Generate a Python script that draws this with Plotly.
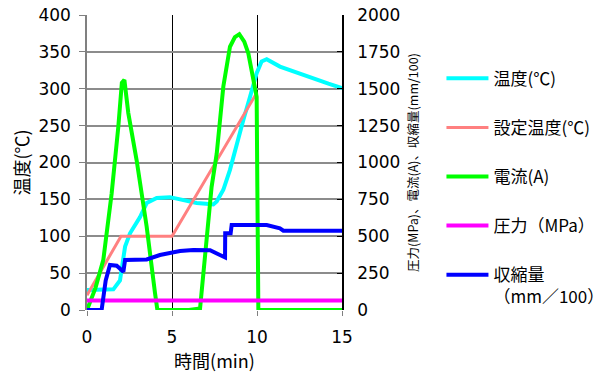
import plotly.graph_objects as go

# ---- data ----
# 温度 (left axis, ℃)
temp_t = [0, 0.5, 1.0, 1.55, 1.94, 2.24, 2.53, 3.12, 3.51, 4.1, 4.88, 5.47, 5.86, 6.45, 7.0, 7.43, 7.63, 8.02, 8.41, 8.8, 9.2, 9.59, 9.98, 10.27, 10.57, 11.35, 12.3, 13.3, 14.2, 15.0]
temp_v = [27, 27, 27, 28, 40, 86, 104, 126, 145, 152, 153, 150, 149, 145, 144, 143, 147, 163, 190, 226, 258, 289, 321, 337, 340, 330, 322, 314, 307, 301]

# 設定温度 (left axis, ℃)
set_t = [0, 2.0, 5.0, 10.0]
set_v = [20, 100, 100, 295]

# 電流 (right axis, A)
cur_t = [0, 0.5, 0.96, 1.45, 1.84, 2.05, 2.2, 2.43, 2.92, 3.51, 4.0, 4.14, 5.0, 6.0, 6.65, 6.94, 7.33, 7.63, 7.82, 8.02, 8.41, 8.7, 8.96, 9.25, 9.49, 9.78, 9.98, 10.02, 10.08, 11.0, 15.0]
cur_v = [0, 150, 340, 790, 1240, 1540, 1560, 1335, 1015, 565, 115, 0, 0, 0, 10, 385, 835, 1060, 1290, 1515, 1785, 1850, 1870, 1820, 1740, 1580, 1445, 835, 0, 0, 0]

# 圧力 (right axis, MPa)
prs_t = [0, 15]
prs_v = [65, 65]

# 収縮量 (right axis, mm/100)
shr_t = [0, 0.86, 1.1, 1.35, 1.75, 2.14, 2.24, 3.51, 4.29, 4.88, 5.47, 6.25, 7.24, 7.82, 8.12, 8.13, 8.45, 8.51, 10.0, 10.57, 11.35, 11.55, 15.0]
shr_v = [0, 0, 200, 305, 300, 260, 339, 343, 373, 389, 400, 407, 405, 373, 357, 520, 520, 576, 576, 576, 554, 538, 538]

x_ticks = [0, 5, 10, 15]
y_left_ticks = [0, 50, 100, 150, 200, 250, 300, 350, 400]
y_right_ticks = [0, 250, 500, 750, 1000, 1250, 1500, 1750, 2000]

JP = "Noto Sans CJK JP"
NUM = "DejaVu Sans"

fig = go.Figure()
fig.add_trace(go.Scatter(x=temp_t, y=temp_v, mode="lines", name="温度(℃)",
                         line=dict(color="#00FFFF", width=4), legendgroup="a"))
fig.add_trace(go.Scatter(x=set_t, y=set_v, mode="lines", name="設定温度(℃)",
                         line=dict(color="#FF8080", width=3), legendgroup="b"))
fig.add_trace(go.Scatter(x=cur_t, y=cur_v, mode="lines", name="電流(A)",
                         line=dict(color="#00FF00", width=4), legendgroup="c", yaxis="y2"))
fig.add_trace(go.Scatter(x=prs_t, y=prs_v, mode="lines", name="圧力（MPa）",
                         line=dict(color="#FF00FF", width=4), legendgroup="d", yaxis="y2"))
fig.add_trace(go.Scatter(x=shr_t, y=shr_v, mode="lines", name="収縮量<br>（mm／100）",
                         line=dict(color="#0000FF", width=4), legendgroup="e", yaxis="y2"))

# page body has an 8px margin, so the figure is 8px smaller and offset accordingly
fig.update_layout(
    width=599, height=366,
    margin=dict(l=79, r=265, t=7, b=64, autoexpand=False),
    paper_bgcolor="white", plot_bgcolor="white",
    font=dict(family=JP, size=15, color="black"),
    showlegend=True,
    legend=dict(x=1.39, xanchor="left", y=0.845, yanchor="top",
                tracegroupgap=24, valign="top", itemwidth=42,
                font=dict(family=JP, size=17, color="black"),
                bgcolor="rgba(0,0,0,0)"),
    xaxis=dict(range=[0, 15], tickvals=x_ticks, showgrid=True, gridcolor="black", gridwidth=1,
               zeroline=False, showline=False, ticks="outside", ticklen=5, tickcolor="#808080",
               ticklabelstandoff=7,
               tickfont=dict(family=NUM, size=17), automargin=False,
               title=dict(text="時間(min)", font=dict(family=JP, size=18), standoff=4)),
    yaxis=dict(range=[0, 400], tickvals=y_left_ticks, showgrid=True, gridcolor="#8c8c8c", gridwidth=1.5,
               zeroline=False, showline=True, linecolor="#808080", linewidth=1.5,
               ticks="outside", ticklen=6, tickcolor="#808080", automargin=False,
               ticklabelstandoff=5, ticklabeloverflow="allow",
               tickfont=dict(family=NUM, size=17),
               title=dict(text="温度(℃)", font=dict(family=JP, size=18), standoff=16)),
    yaxis2=dict(range=[0, 2000], tickvals=y_right_ticks, overlaying="y", side="right",
                showgrid=False, zeroline=False, showline=True, linecolor="black", linewidth=1.5,
                ticks="inside", ticklen=5, tickcolor="black", ticklabelstandoff=10, automargin=False,
                ticklabeloverflow="allow",
                tickfont=dict(family=NUM, size=17),
                title=dict(text="圧力(MPa)、電流(A)、収縮量(mm/100)", font=dict(family=JP, size=12.5), standoff=10)),
)

fig.write_html("out.html")
